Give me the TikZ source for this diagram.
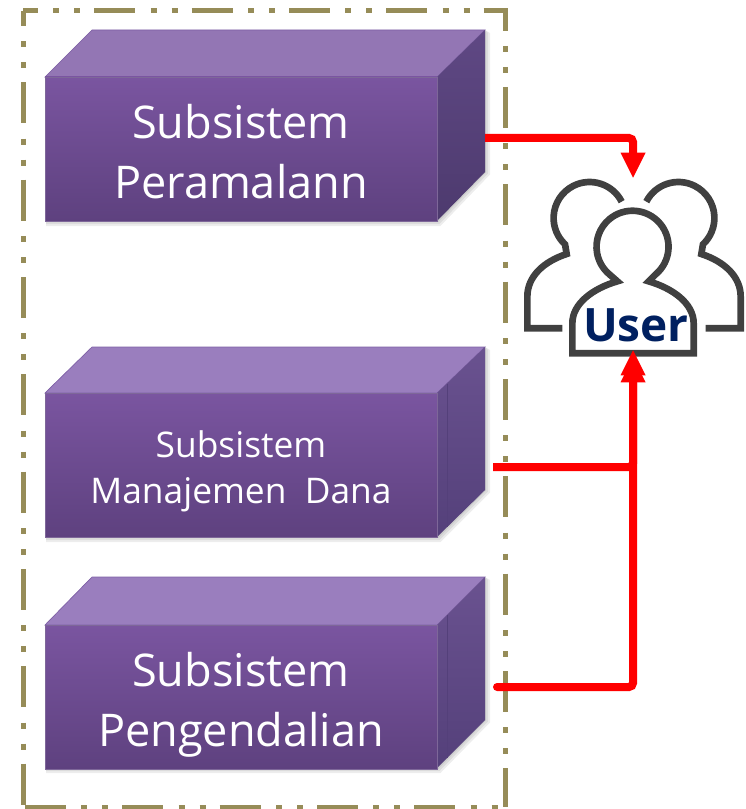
\documentclass[tikz,border=0pt]{standalone}
\usepackage{fontspec}
\setmainfont{Open Sans}
\usetikzlibrary{arrows.meta,calc}
\definecolor{frameol}{HTML}{968C58}
\definecolor{navy}{HTML}{002060}
\definecolor{icongray}{HTML}{404040}
\definecolor{frontbot}{HTML}{5E417F}
\definecolor{fronttop}{HTML}{7A55A0}
\definecolor{topedge}{HTML}{7D5FA5}
\definecolor{topone}{HTML}{9376B4}
\definecolor{toptwo}{HTML}{9A7EBE}
\definecolor{sidetop}{HTML}{5F4884}
\definecolor{sidebot}{HTML}{4D3A6E}
\definecolor{sidetoptwo}{HTML}{6A5290}
\definecolor{sidebottwo}{HTML}{54407A}
\tikzset{
  x=0.75pt,y=-0.75pt,
  frameline/.style={draw=frameol,line width=3.75pt,dash pattern=on 30.75pt off 11.5pt on 4.5pt off 11.25pt on 4.5pt off 10.5pt},
  frontface/.style={minimum width=294pt,minimum height=108pt,inner sep=0pt,top color=#1,bottom color=frontbot,draw=frontbot!80!white,line width=.5pt},
  facelabel/.style={text=white,align=center,inner sep=0pt},
  topface/.style={fill=#1,draw=topedge,line width=.5pt},
  softshadow/.style={fill=black,fill opacity=.07,draw=none},
  person/.style={draw=icongray,line width=5pt,line join=miter,miter limit=20},
  wire/.style={draw=red,line width=6pt,rounded corners=3pt},
  tip/.style={fill=red,draw=none},
  bigtext/.style={font=\fontsize{33.8}{45}\selectfont},
  smalltext/.style={font=\fontsize{26.5}{34.5}\selectfont},
}
\begin{document}
\begin{tikzpicture}
\useasboundingbox (0,0) rectangle (745,809);
% frame
\path[frameline,dash phase=19.5pt] (23,11) -- (505,11) -- (505,807);
\path[frameline,dash phase=19.5pt] (23,11) -- (23,807);
\path[frameline] (25,807) -- (505,807);
% shadows
\foreach \sa/\sb/\sc in {30/172/221,347/490/537,577/720/768}
  \foreach \sd in {1,3,5}
    \fill[softshadow] (46,\sc) -- (46,\sc+\sd) -- (438+\sd/2,\sc+\sd) -- (485+\sd,\sb+\sd/2) -- (485+\sd,\sa+3) -- (485,\sa) -- cycle;
% box 1
\path[topface=topone] (45,77) -- (92,30) -- (485,30) -- (437,77) -- cycle;
\shade[bottom color=sidebot,top color=sidetop] (437,77) -- (485,30) -- (485,172) -- (437,221) -- cycle;
\node[frontface=fronttop] (b1) at (241,149) {};
\node[facelabel,bigtext] (t1) at (241,152) {Subsistem\\Peramalann};
% box 2
\path[topface=toptwo] (45,393) -- (92,347) -- (485,347) -- (437,393) -- cycle;
\shade[bottom color=sidebottwo,top color=sidetoptwo] (437,393) -- (485,347) -- (485,490) -- (437,537) -- cycle;
\draw[sidebottwo,line width=.5pt] (447,384) -- (447,527);
\node[frontface=fronttop] (b2) at (241,465) {};
\node[facelabel,smalltext] (t2) at (241,471) {Subsistem\\Manajemen\ \ Dana};
% box 3
\path[topface=toptwo] (45,625) -- (92,577) -- (485,577) -- (437,625) -- cycle;
\shade[bottom color=sidebottwo,top color=sidetoptwo] (437,625) -- (485,577) -- (485,720) -- (437,768) -- cycle;
\draw[sidebottwo,line width=.5pt] (447,615) -- (447,758);
\node[frontface=fronttop] (b3) at (241,697) {};
\node[facelabel,bigtext] (t3) at (241,705) {Subsistem\\Pengendalian};
% user icon
\node[minimum width=165pt,minimum height=129pt,inner sep=0pt] (icon) at (633,264) {};
\begin{scope}[shift={(500,120)},scale=1/3]
\draw[person] (467,463) arc[start angle=50,end angle=-230,radius=108] -- (352,484)
  .. controls (280,505) and (217,550) .. (217,610) -- (217,700) -- (581,700) -- (581,610)
  .. controls (581,550) and (518,505) .. (446,484) -- cycle;
\draw[person] (365,245) arc[start angle=-27,end angle=-227,radius=108] -- (200,402)
  .. controls (130,425) and (82,470) .. (82,530) -- (82,625) -- (187,625);
\draw[person] (439,245) arc[start angle=207,end angle=407,radius=108] -- (604,402)
  .. controls (674,425) and (722,470) .. (722,530) -- (722,625) -- (617,625);
\end{scope}
\node[text=navy,font=\fontsize{34.5}{36}\selectfont\bfseries,inner sep=0pt] (userlabel) at (636,325) {User};
% connectors
\coordinate (o1) at (485,138);
\coordinate (o2) at (493,467);
\coordinate (o3) at (497,687);
\draw[wire] (o1) -| (icon.north |- 0,160);
\fill[tip] (icon.north) -- ++(-12.5,-25) -- ++(25,0) -- cycle;
\draw[wire] (o2) -| (icon.south |- 0,370);
\draw[wire,line cap=round] (o3) -| (icon.south |- 0,370);
\fill[tip] (icon.south) -- ++(-12.5,25) -- ++(25,0) -- cycle;
\fill[tip] ($(icon.south)+(0,7)$) -- ++(-12.5,25) -- ++(25,0) -- cycle;
\end{tikzpicture}
\end{document}
